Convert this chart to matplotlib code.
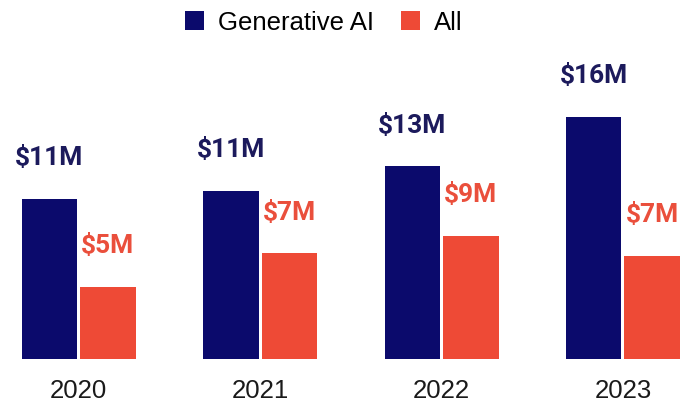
import matplotlib
matplotlib.use("Agg")
import matplotlib.pyplot as plt
from matplotlib.patches import Patch
import numpy as np

years = ["2020", "2021", "2022", "2023"]
genai_values = [10.6, 11.1, 12.75, 16.0]
all_values = [4.76, 6.98, 8.15, 6.82]
genai_labels = ["$11M", "$11M", "$13M", "$16M"]
all_labels = ["$5M", "$7M", "$9M", "$7M"]

navy = "#0b0a6c"
red = "#ee4a36"
navy_text = "#1c1a5c"
red_text = "#ea4f3c"

fig = plt.figure(figsize=(6.81, 4.02), dpi=100)
ax = fig.add_axes([0, 42.5 / 402, 1, 314.5 / 402])

x = np.arange(len(years))
w = 0.306
off = 0.161
b1 = ax.bar(x - off, genai_values, w, color=navy, label="Generative AI")
b2 = ax.bar(x + off, all_values, w, color=red, label="All")

for rect, lab in zip(b1, genai_labels):
    ax.annotate(lab, (rect.get_x() + rect.get_width() / 2, rect.get_height()),
                xytext=(0, 25), textcoords="offset points", ha="center", va="baseline",
                fontsize=19, fontweight="bold", family="Roboto", color=navy_text)
for rect, lab in zip(b2, all_labels):
    ax.annotate(lab, (rect.get_x() + rect.get_width() / 2, rect.get_height()),
                xytext=(0, 25), textcoords="offset points", ha="center", va="baseline",
                fontsize=19, fontweight="bold", family="Roboto", color=red_text)

ax.set_xlim(-0.434, 3.320)
ax.set_ylim(0, 314.5 / 15.08)
ax.set_xticks(x)
ax.set_xticklabels(years, fontsize=18.5, family="Liberation Sans", color="#1a1a1a")
ax.tick_params(axis="x", length=0, pad=14)
ax.set_yticks([])
for s in ax.spines.values():
    s.set_visible(False)

handles = [Patch(facecolor=navy, label="Generative AI"), Patch(facecolor=red, label="All")]
fig.legend(handles=handles, loc="center", bbox_to_anchor=(0.476, 1 - 23.5 / 402), ncol=2,
           frameon=False, prop={"family": "Liberation Sans", "size": 18.5},
           handlelength=0.72, handleheight=0.72, handletextpad=0.56, columnspacing=1.05)

fig.savefig("out.png", dpi=100, facecolor="white")
